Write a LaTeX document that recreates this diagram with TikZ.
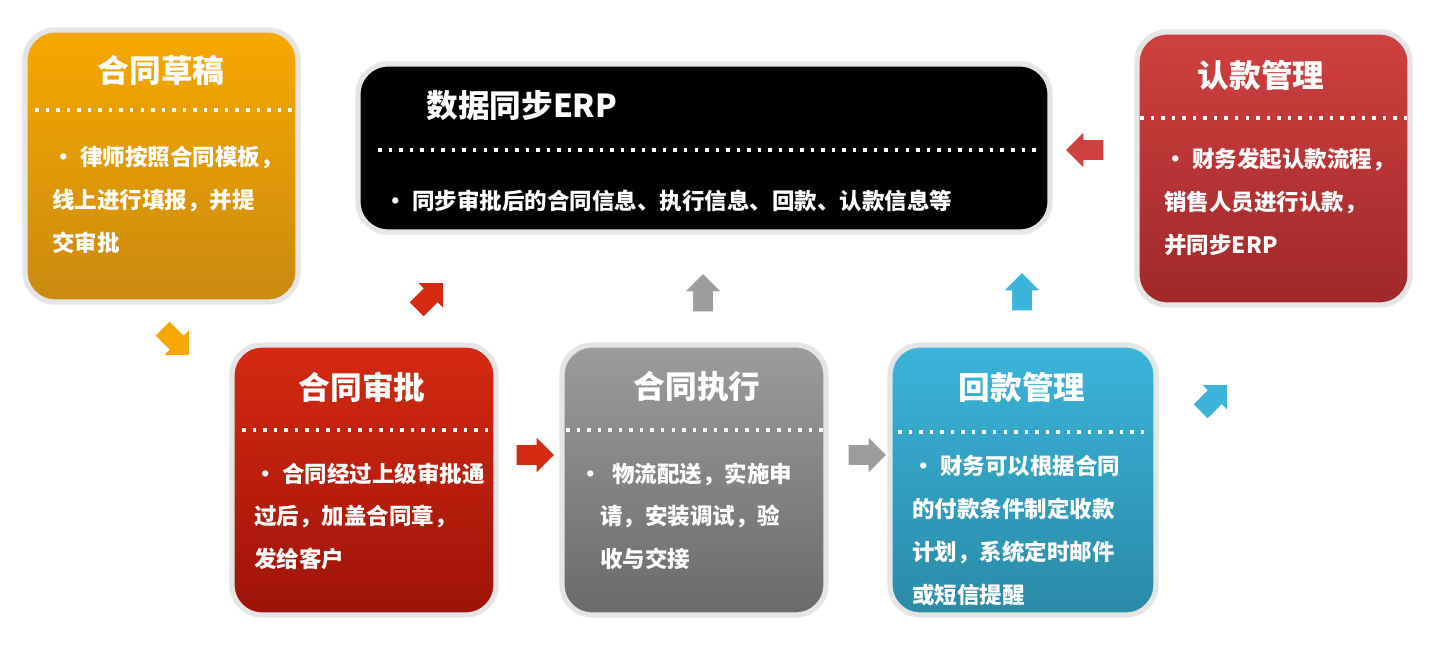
\documentclass[tikz,border=0pt]{standalone}
\usepackage{fontspec}
\setmainfont{Noto Sans CJK SC}
\usetikzlibrary{shapes.arrows}
\definecolor{or1}{HTML}{F7A800}\definecolor{or2}{HTML}{C98A10}
\definecolor{rd1}{HTML}{D42A12}\definecolor{rd2}{HTML}{9E1208}
\definecolor{rk1}{HTML}{D04040}\definecolor{rk2}{HTML}{A02828}
\definecolor{gy1}{HTML}{9C9C9C}\definecolor{gy2}{HTML}{6A6A6A}
\definecolor{bl1}{HTML}{3AB4DA}\definecolor{bl2}{HTML}{2A8AA6}
\begin{document}
\begin{tikzpicture}[x=0.01cm,y=-0.01cm,
 box/.style={rounded corners=0.3cm, draw=black!10, line width=1.5},
 ttl/.style={text=white, font=\bfseries\fontsize{9}{10}\selectfont},
 body/.style={text=white, font=\bfseries\fontsize{6.4}{12.2}\selectfont, align=left, anchor=north west},
 sep/.style={white, dotted, line width=1},
 arr/.style={single arrow, minimum height=0.4cm, inner sep=0.1cm, single arrow head extend=0.09cm, draw=white, line width=0.6}]
\useasboundingbox (0,0) rectangle (1436,652);
% boxes
\fill[box, top color=or1, bottom color=or2] (25,30) rectangle (298,302);
\node (a) [ttl] at (161,70) {合同草稿};
\draw[sep] (35,110) -- (298,110);
\node (at) [body] at (40,134) {• 律师按照合同模板，\\线上进行填报，并提\\交审批};

\fill[box, fill=black, draw=black!10] (358,64) rectangle (1050,232);
\node (e) [ttl, anchor=west] at (414,106) {数据同步ERP};
\draw[sep] (378,150) -- (1040,150);
\node (et) [body] at (372,178) {• 同步审批后的合同信息、执行信息、回款、认款信息等};

\fill[box, top color=rk1, bottom color=rk2] (1137,32) rectangle (1410,305);
\node (r) [ttl] at (1261,75) {认款管理};
\draw[sep] (1140,118) -- (1408,118);
\node (rt) [body] at (1152,136) {• 财务发起认款流程，\\销售人员进行认款，\\并同步ERP};

\fill[box, top color=rd1, bottom color=rd2] (232,345) rectangle (496,615);
\node (s) [ttl] at (362,387) {合同审批};
\draw[sep] (242,430) -- (494,430);
\node (st) [body] at (242,450) {• 合同经过上级审批通\\过后，加盖合同章，\\发给客户};

\fill[box, top color=gy1, bottom color=gy2] (562,345) rectangle (826,615);
\node (x) [ttl] at (697,387) {合同执行};
\draw[sep] (566,430) -- (824,430);
\node (xt) [body] at (567,450) {•\ \ 物流配送，实施申\\\ \ \ \ 请，安装调试，验\\\ \ \ \ 收与交接};

\fill[box, top color=bl1, bottom color=bl2] (890,345) rectangle (1156,615);
\node (h) [ttl] at (1022,387) {回款管理};
\draw[sep] (898,432) -- (1146,432);
\node (ht) [body] at (900,443) {• 财务可以根据合同\\的付款条件制定收款\\计划，系统定时邮件\\或短信提醒};
% arrows
\node (a1) [arr, fill=or1, rotate=-45] at (172,338) {};
\node (a2) [arr, fill=rd1, rotate=45] at (426,300) {};
\node (a3) [arr, fill=gy1, rotate=90] at (703,298) {};
\node (a4) [arr, fill=bl1, rotate=90] at (1022,297) {};
\node (a5) [arr, fill=bl1, rotate=45] at (1210,402) {};
\node (a6) [arr, fill=rk1, rotate=180] at (1090,150) {};
\node (a7) [arr, fill=rd1] at (530,455) {};
\node (a8) [arr, fill=gy1] at (862,455) {};
\end{tikzpicture}
\end{document}
